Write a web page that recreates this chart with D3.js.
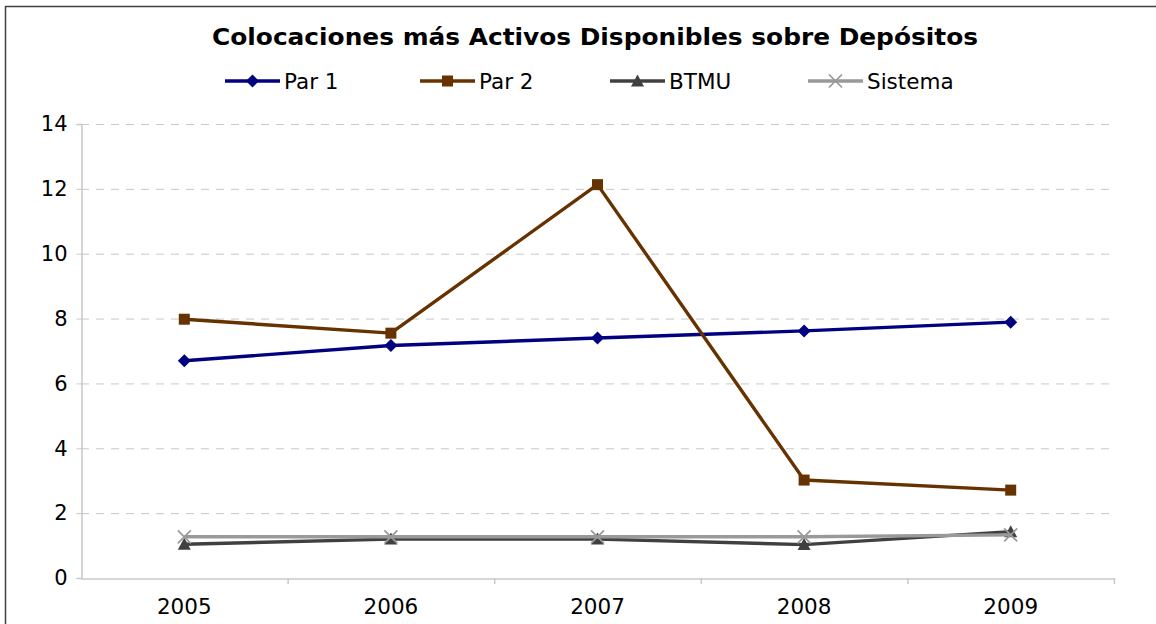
<!DOCTYPE html>
<html><head><meta charset="utf-8">
<script src="https://cdn.jsdelivr.net/npm/d3@7"></script>
<style>html,body{margin:0;padding:0;background:#fff;overflow:hidden}</style>
</head><body>
<script>
const years = ["2005","2006","2007","2008","2009"];
const par1 = [6.7, 7.17, 7.4, 7.62, 7.89];
const par2 = [7.98, 7.55, 12.13, 3.02, 2.71];
const btmu = [1.04, 1.2, 1.2, 1.03, 1.43];
const sistema = [1.27, 1.27, 1.27, 1.27, 1.33];
const yTicks = [0, 2, 4, 6, 8, 10, 12, 14];
const seriesNames = ["Par 1", "Par 2", "BTMU", "Sistema"];

(function () {
const W = 1156, H = 624;
const svg = d3.select("body").append("svg").attr("width", W).attr("height", H);
const FONT = "'DejaVu Sans', Verdana, sans-serif";

svg.append("rect").attr("x", 5.5).attr("y", 6.5).attr("width", 1200).attr("height", 700)
  .attr("fill", "#fff").attr("stroke", "#404040").attr("stroke-width", 1.5);

const pLeft = 81, pRight = 1114, pTop = 124, pBottom = 578;
const x = d3.scaleBand().domain(years).range([pLeft, pRight]).paddingInner(0).paddingOuter(0);
const y = d3.scaleLinear().domain([0, 14]).range([pBottom, pTop]);
const cx = d => x(d) + x.bandwidth() / 2;

svg.append("g").selectAll("line").data(yTicks.filter(t => t > 0)).join("line")
  .attr("x1", pLeft).attr("x2", pRight)
  .attr("y1", d => y(d) + 0.5).attr("y2", d => y(d) + 0.5)
  .attr("stroke", "#c8c8c8").attr("stroke-width", 1).attr("stroke-dasharray", "8,7");

const yAxis = svg.append("g").attr("transform", `translate(${pLeft + 0.5},0)`)
  .call(d3.axisLeft(y).tickValues(yTicks).tickSize(5).tickPadding(9).tickFormat(d3.format("d")));
yAxis.select(".domain").attr("stroke", "#c8c8c8").attr("stroke-width", 1.5);
yAxis.selectAll(".tick line").attr("stroke", "#c8c8c8");
yAxis.selectAll("text").attr("font-family", FONT).attr("font-size", 21).attr("fill", "#000");

const xAxis = svg.append("g").attr("transform", `translate(0,${pBottom + 0.5})`)
  .call(d3.axisBottom(x).tickSize(0).tickPadding(20));
xAxis.select(".domain").attr("stroke", "#c8c8c8").attr("stroke-width", 1.5);
xAxis.selectAll("text").attr("font-family", FONT).attr("font-size", 21.5).attr("fill", "#000");
const bounds = years.map(d => x(d)).concat([x(years[years.length - 1]) + x.bandwidth()]);
svg.append("g").selectAll("line").data(bounds.slice(1)).join("line")
  .attr("x1", d => d + 0.5).attr("x2", d => d + 0.5)
  .attr("y1", pBottom).attr("y2", pBottom + 6)
  .attr("stroke", "#c8c8c8").attr("stroke-width", 1.5);

const series = [
  {name: seriesNames[0], values: par1, color: "#000080", marker: "diamond"},
  {name: seriesNames[1], values: par2, color: "#663300", marker: "square"},
  {name: seriesNames[2], values: btmu, color: "#404040", marker: "triangle"},
  {name: seriesNames[3], values: sistema, color: "#999999", marker: "x"}
];

function drawMarker(g, type, color) {
  if (type === "diamond") {
    g.append("path").attr("d", "M0,-6.5L6.5,0L0,6.5L-6.5,0Z").attr("fill", color);
  } else if (type === "square") {
    g.append("rect").attr("x", -5.5).attr("y", -5.5).attr("width", 11).attr("height", 11).attr("fill", color);
  } else if (type === "triangle") {
    g.append("path").attr("d", "M0,-6.5L6.5,5.5L-6.5,5.5Z").attr("fill", color);
  } else {
    g.append("path").attr("d", "M-6.5,-6.5L6.5,6.5M-6.5,6.5L6.5,-6.5").attr("stroke", color).attr("stroke-width", 1.7).attr("fill", "none");
  }
}

const line = d3.line().x((d, i) => cx(years[i])).y(d => y(d));
series.forEach(s => {
  svg.append("path").datum(s.values).attr("d", line)
    .attr("fill", "none").attr("stroke", s.color).attr("stroke-width", 3.4)
    .attr("stroke-linejoin", "round");
  s.values.forEach((v, i) => {
    const g = svg.append("g").attr("transform", `translate(${cx(years[i])},${y(v)})`);
    drawMarker(g, s.marker, s.color);
  });
});

svg.append("text").attr("x", 595).attr("y", 45).attr("text-anchor", "middle")
  .attr("font-family", FONT).attr("font-weight", "bold").attr("font-size", 23.5)
  .attr("textLength", 766).attr("lengthAdjust", "spacingAndGlyphs")
  .attr("fill", "#000").text("Colocaciones más Activos Disponibles sobre Depósitos");

const legendX = [225, 420, 610, 808];
series.forEach((s, i) => {
  const g = svg.append("g").attr("transform", `translate(${legendX[i]},81)`);
  g.append("line").attr("x1", 0).attr("x2", 55).attr("y1", 0).attr("y2", 0)
    .attr("stroke", s.color).attr("stroke-width", 3.4);
  const m = g.append("g").attr("transform", "translate(27.5,0)");
  drawMarker(m, s.marker, s.color);
  g.append("text").attr("x", 59).attr("y", 8).attr("font-family", FONT)
    .attr("font-size", 21.5).attr("fill", "#000").text(s.name);
});
})();
</script>
</body></html>
